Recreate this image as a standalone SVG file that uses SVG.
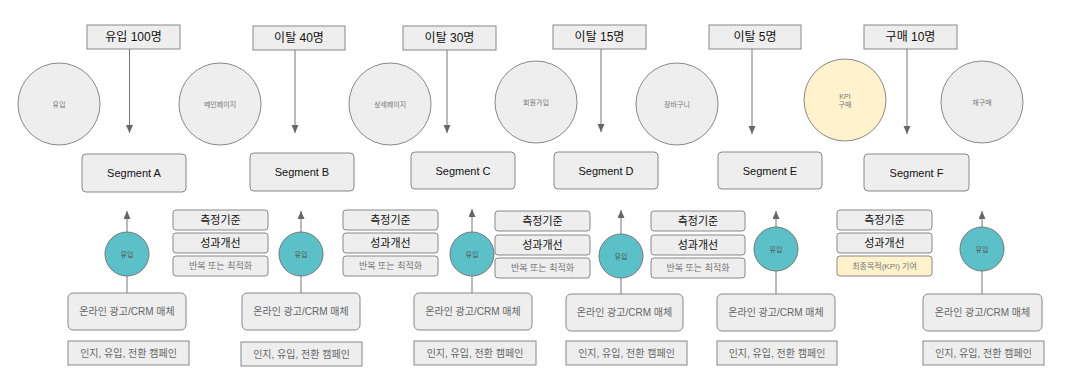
<svg xmlns="http://www.w3.org/2000/svg" width="1080" height="380" viewBox="0 0 1080 380">
<defs>
<marker id="ah" markerWidth="8" markerHeight="8" refX="8" refY="3.5" orient="auto" markerUnits="userSpaceOnUse"><path d="M0,0 L8,3.5 L0,7 z" fill="#666"/></marker>
<style>
text{font-family:"Liberation Sans","Noto Sans CJK KR",Arial,sans-serif;text-anchor:middle;dominant-baseline:central}
.lbl rect{fill:#eeeeee;stroke:#888;stroke-width:1}
.lbl text{font-size:12px;fill:#111}
.pg circle{fill:#eeeeee;stroke:#888;stroke-width:1}
.pg text{font-size:7px;fill:#777}
.seg rect{fill:#eeeeee;stroke:#888;stroke-width:1}
.seg text{font-size:11px;fill:#111}
.in circle{fill:#5bc0c8;stroke:#777;stroke-width:1}
.in text{font-size:7px;fill:#555}
.med rect{fill:#eeeeee;stroke:#888;stroke-width:1}
.med text{font-size:10px;fill:#666}
.cmp rect{fill:#eeeeee;stroke:#888;stroke-width:1}
.cmp text{font-size:10px;fill:#666}
.sb rect{fill:#eeeeee;stroke:#888;stroke-width:1}
.sb text.k{font-size:11px;fill:#111}
.sb text.o{font-size:9px;fill:#777}
.kpi rect{fill:#fff2cc}
.kpi circle{fill:#fff2cc;stroke:#888}
.conn line{stroke:#777;stroke-width:1;fill:none}
</style>
</defs>
<rect width="1080" height="380" fill="#ffffff"/>

<g id="labels">
<g id="lbl-a" class="lbl"><rect x="87" y="25" width="93" height="24"/><text x="133.5" y="37">유입 100명</text></g>
<g id="lbl-b" class="lbl"><rect x="253" y="26" width="92" height="24"/><text x="299" y="38">이탈 40명</text></g>
<g id="lbl-c" class="lbl"><rect x="403" y="26" width="93" height="24"/><text x="449.5" y="38">이탈 30명</text></g>
<g id="lbl-d" class="lbl"><rect x="553" y="25" width="93" height="24"/><text x="599.5" y="37">이탈 15명</text></g>
<g id="lbl-e" class="lbl"><rect x="709" y="25" width="92" height="24"/><text x="755" y="37">이탈 5명</text></g>
<g id="lbl-f" class="lbl"><rect x="864" y="25" width="93" height="24"/><text x="910.5" y="37">구매 10명</text></g>
</g>

<g id="pages">
<g id="pg-1" class="pg"><circle cx="59" cy="104" r="41"/><text x="59" y="104">유입</text></g>
<g id="pg-2" class="pg"><circle cx="220" cy="104" r="41"/><text x="220" y="104">메인페이지</text></g>
<g id="pg-3" class="pg"><circle cx="390" cy="104" r="41"/><text x="390" y="104">상세페이지</text></g>
<g id="pg-4" class="pg"><circle cx="536" cy="102" r="41"/><text x="536" y="102">회원가입</text></g>
<g id="pg-5" class="pg"><circle cx="677" cy="104" r="41"/><text x="677" y="104">장바구니</text></g>
<g id="pg-6" class="pg kpi"><circle cx="845" cy="100" r="41"/><text x="845" y="96">KPI</text><text x="845" y="104">구매</text></g>
<g id="pg-7" class="pg"><circle cx="982" cy="102" r="41"/><text x="982" y="102">재구매</text></g>
</g>

<g id="segments">
<g id="seg-a" class="seg"><rect x="82" y="154" width="104" height="38" rx="4"/><text x="134" y="173">Segment A</text></g>
<g id="seg-b" class="seg"><rect x="250" y="153" width="104" height="38" rx="4"/><text x="302" y="172">Segment B</text></g>
<g id="seg-c" class="seg"><rect x="411" y="152" width="104" height="37" rx="4"/><text x="463" y="170.5">Segment C</text></g>
<g id="seg-d" class="seg"><rect x="554" y="152" width="104" height="37" rx="4"/><text x="606" y="170.5">Segment D</text></g>
<g id="seg-e" class="seg"><rect x="718" y="152" width="104" height="37" rx="4"/><text x="770" y="170.5">Segment E</text></g>
<g id="seg-f" class="seg"><rect x="864" y="154" width="105" height="37" rx="4"/><text x="916.5" y="172.5">Segment F</text></g>
</g>

<g id="connectors" class="conn">
<line x1="129.5" y1="49" x2="129.5" y2="133" marker-end="url(#ah)"/>
<line x1="295" y1="50" x2="295" y2="133" marker-end="url(#ah)"/>
<line x1="447" y1="50" x2="447" y2="133" marker-end="url(#ah)"/>
<line x1="601" y1="49" x2="601" y2="132" marker-end="url(#ah)"/>
<line x1="752" y1="49" x2="752" y2="134" marker-end="url(#ah)"/>
<line x1="907" y1="49" x2="907" y2="134" marker-end="url(#ah)"/>

<line x1="127" y1="293" x2="127" y2="276"/>
<line x1="127" y1="232" x2="127" y2="211" marker-end="url(#ah)"/>
<line x1="301" y1="293" x2="301" y2="276"/>
<line x1="301" y1="232" x2="301" y2="211" marker-end="url(#ah)"/>
<line x1="472" y1="293" x2="472" y2="276"/>
<line x1="472" y1="232" x2="472" y2="209" marker-end="url(#ah)"/>
<line x1="621" y1="294" x2="621" y2="278"/>
<line x1="621" y1="234" x2="621" y2="210" marker-end="url(#ah)"/>
<line x1="776" y1="294" x2="776" y2="271"/>
<line x1="776" y1="227" x2="776" y2="211" marker-end="url(#ah)"/>
<line x1="982" y1="294" x2="982" y2="271"/>
<line x1="982" y1="227" x2="982" y2="211" marker-end="url(#ah)"/>
</g>

<g id="inflow">
<g id="in-1" class="in"><circle cx="127" cy="254" r="22"/><text x="127" y="254">유입</text></g>
<g id="in-2" class="in"><circle cx="301" cy="254" r="22"/><text x="301" y="254">유입</text></g>
<g id="in-3" class="in"><circle cx="472" cy="254" r="22"/><text x="472" y="254">유입</text></g>
<g id="in-4" class="in"><circle cx="621" cy="256" r="22"/><text x="621" y="256">유입</text></g>
<g id="in-5" class="in"><circle cx="776" cy="249" r="22"/><text x="776" y="249">유입</text></g>
<g id="in-6" class="in"><circle cx="982" cy="249" r="22"/><text x="982" y="249">유입</text></g>
</g>

<g id="media">
<g id="med-1" class="med"><rect x="68" y="293" width="118" height="37" rx="5"/><text x="127" y="311.5">온라인 광고/CRM 매체</text></g>
<g id="med-2" class="med"><rect x="242" y="293" width="118" height="37" rx="5"/><text x="301" y="311.5">온라인 광고/CRM 매체</text></g>
<g id="med-3" class="med"><rect x="414" y="293" width="118" height="37" rx="5"/><text x="473" y="311.5">온라인 광고/CRM 매체</text></g>
<g id="med-4" class="med"><rect x="566" y="294" width="117" height="37" rx="5"/><text x="624.5" y="312.5">온라인 광고/CRM 매체</text></g>
<g id="med-5" class="med"><rect x="717" y="294" width="118" height="37" rx="5"/><text x="776" y="312.5">온라인 광고/CRM 매체</text></g>
<g id="med-6" class="med"><rect x="923" y="294" width="119" height="37" rx="5"/><text x="982.5" y="312.5">온라인 광고/CRM 매체</text></g>
</g>

<g id="campaigns">
<g id="cmp-1" class="cmp"><rect x="68" y="341" width="121" height="24"/><text x="128.5" y="353">인지, 유입, 전환 캠페인</text></g>
<g id="cmp-2" class="cmp"><rect x="241" y="342" width="121" height="24"/><text x="301.5" y="354">인지, 유입, 전환 캠페인</text></g>
<g id="cmp-3" class="cmp"><rect x="414" y="341" width="122" height="24"/><text x="475" y="353">인지, 유입, 전환 캠페인</text></g>
<g id="cmp-4" class="cmp"><rect x="566" y="341" width="121" height="24"/><text x="626.5" y="353">인지, 유입, 전환 캠페인</text></g>
<g id="cmp-5" class="cmp"><rect x="717" y="341" width="120" height="24"/><text x="777" y="353">인지, 유입, 전환 캠페인</text></g>
<g id="cmp-6" class="cmp"><rect x="923" y="341" width="121" height="24"/><text x="983.5" y="353">인지, 유입, 전환 캠페인</text></g>
</g>

<g id="criteria">
<g id="sb-1" class="sb">
<rect x="173" y="210" width="95" height="20" rx="3"/><text class="k" x="220.5" y="220">측정기준</text>
<rect x="173" y="233" width="95" height="20" rx="3"/><text class="k" x="220.5" y="243">성과개선</text>
<rect x="173" y="256" width="95" height="20" rx="3"/><text class="o" x="220.5" y="266">반복 또는 최적화</text>
</g>
<g id="sb-2" class="sb">
<rect x="343" y="210" width="95" height="20" rx="3"/><text class="k" x="390.5" y="220">측정기준</text>
<rect x="343" y="233" width="95" height="20" rx="3"/><text class="k" x="390.5" y="243">성과개선</text>
<rect x="343" y="256" width="95" height="20" rx="3"/><text class="o" x="390.5" y="266">반복 또는 최적화</text>
</g>
<g id="sb-3" class="sb">
<rect x="495" y="211" width="95" height="20" rx="3"/><text class="k" x="542.5" y="221">측정기준</text>
<rect x="495" y="235" width="95" height="20" rx="3"/><text class="k" x="542.5" y="245">성과개선</text>
<rect x="495" y="258" width="95" height="20" rx="3"/><text class="o" x="542.5" y="268">반복 또는 최적화</text>
</g>
<g id="sb-4" class="sb">
<rect x="651" y="211" width="94" height="20" rx="3"/><text class="k" x="698" y="221">측정기준</text>
<rect x="651" y="235" width="94" height="20" rx="3"/><text class="k" x="698" y="245">성과개선</text>
<rect x="651" y="258" width="94" height="20" rx="3"/><text class="o" x="698" y="268">반복 또는 최적화</text>
</g>
<g id="sb-5" class="sb">
<rect x="837" y="210" width="95" height="20" rx="3"/><text class="k" x="884.5" y="220">측정기준</text>
<rect x="837" y="233" width="95" height="20" rx="3"/><text class="k" x="884.5" y="243">성과개선</text>
<g class="kpi"><rect x="837" y="256" width="95" height="20" rx="3"/></g><text class="o" x="884.5" y="266" style="font-size:8px">최종목적(KPI) 기여</text>
</g>
</g>
</svg>
